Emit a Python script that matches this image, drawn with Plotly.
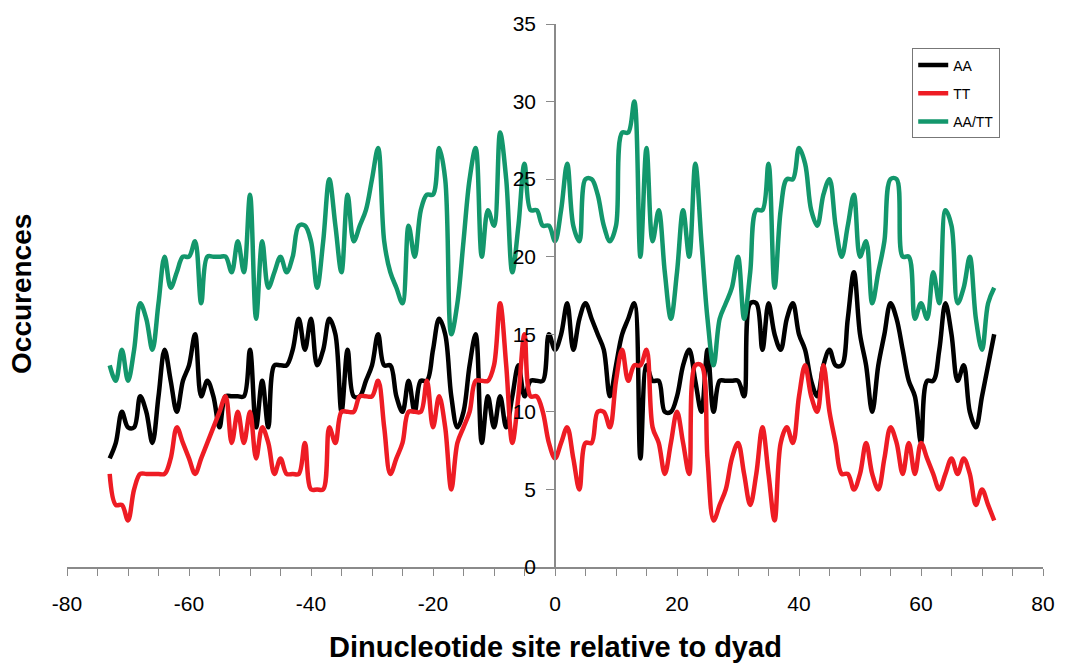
import plotly.graph_objects as go

# Dinucleotide positions relative to the nucleosome dyad
positions = list(range(-73, 73))

# Occurrence counts per position
aa = [
    7, 8, 10, 9, 9, 11, 10, 8, 11, 14,
    12, 10, 12, 13, 15, 11, 12, 11, 9, 11,
    11, 11, 11, 14, 9, 12, 9, 13, 13, 13,
    14, 16, 14, 16, 13, 14, 16, 15, 10, 14,
    11, 11, 12, 13, 15, 13, 13, 11, 10, 12,
    10, 12, 12, 14, 16, 15, 11, 9, 10, 13,
    15, 8, 11, 9, 11, 9, 11, 13, 11, 12,
    12, 12, 15, 14, 15, 17, 14, 16, 17, 16,
    15, 14, 11, 13, 15, 16, 17, 7, 13, 12,
    12, 10, 10, 11, 13, 14, 12, 10, 14, 10,
    12, 12, 12, 12, 11, 17, 17, 14, 17, 15,
    14, 16, 17, 15, 14, 12, 11, 13, 14, 13,
    13, 16, 19, 15, 13, 10, 13, 15, 17, 16,
    14, 12, 11, 8, 12, 12, 14, 17, 15, 12,
    13, 10, 9, 11, 13, 15,
]

tt = [
    6, 4, 4, 3, 5, 6, 6, 6, 6, 6,
    7, 9, 8, 7, 6, 7, 8, 9, 10, 11,
    8, 10, 8, 10, 7, 9, 8, 6, 7, 6,
    6, 6, 8, 5, 5, 5, 9, 8, 10, 10,
    10, 11, 11, 11, 12, 9, 6, 7, 8, 10,
    10, 10, 12, 9, 11, 9, 5, 8, 9, 10,
    12, 12, 12, 13, 17, 13, 8, 11, 15, 11,
    11, 10, 8, 7, 8, 9, 7, 5, 8, 8,
    10, 10, 9, 12, 14, 12, 13, 13, 14, 9,
    8, 6, 8, 10, 8, 6, 13, 13, 7, 3,
    4, 5, 7, 8, 6, 4, 6, 9, 6, 3,
    8, 9, 8, 11, 13, 11, 10, 13, 10, 8,
    6, 6, 5, 6, 8, 6, 5, 7, 9, 8,
    6, 8, 6, 8, 7, 6, 5, 6, 7, 6,
    7, 6, 4, 5, 4, 3,
]

aa_tt = [
    13, 12, 14, 12, 14, 17, 16, 14, 17, 20,
    18, 19, 20, 20, 21, 17, 20, 20, 20, 20,
    19, 21, 19, 24, 16, 21, 18, 19, 20, 19,
    20, 22, 22, 21, 18, 21, 25, 22, 19, 24,
    21, 22, 23, 25, 27, 21, 19, 18, 17, 22,
    20, 23, 24, 24, 27, 25, 15, 17, 21, 25,
    27, 20, 23, 22, 28, 25, 19, 22, 26, 23,
    23, 22, 22, 21, 23, 26, 22, 21, 25, 25,
    24, 22, 21, 22, 28, 28, 30, 20, 27, 21,
    23, 19, 16, 19, 23, 20, 26, 21, 16, 13,
    16, 17, 18, 20, 16, 19, 23, 23, 26, 18,
    23, 25, 25, 27, 26, 23, 22, 24, 25, 22,
    20, 22, 24, 20, 21, 17, 19, 21, 25, 25,
    20, 20, 16, 17, 16, 19, 17, 23, 22, 17,
    18, 20, 16, 14, 17, 18,
]

series_names = ["AA", "TT", "AA/TT"]
series_colors = ["#000000", "#ee1c24", "#13976c"]

x_tick_vals = [-80, -60, -40, -20, 0, 20, 40, 60, 80]
x_tick_text = ["-80", "-60", "-40", "-20", "0", "20", "40", "60", "80"]
y_tick_vals = [0, 5, 10, 15, 20, 25, 30, 35]
y_tick_text = ["0", "5", "10", "15", "20", "25", "30", "35"]

x_title = "Dinucleotide site relative to dyad"
y_title = "Occurences"

fig = go.Figure()
for name, values, color in zip(series_names, [aa, tt, aa_tt], series_colors):
    fig.add_trace(go.Scatter(
        x=positions, y=values, mode="lines", name=name, legendgroup=name,
        line=dict(color=color, width=4.5, shape="spline", smoothing=1),
    ))

axis_grey = "#8a8a8a"
fig.update_layout(
    width=1068, height=665,
    margin=dict(l=67, r=25, t=20, b=97.5),
    paper_bgcolor="white", plot_bgcolor="white",
    font=dict(family="Liberation Sans, Arial, sans-serif", color="black"),
    showlegend=True,
    xaxis=dict(
        range=[-80, 80], tickmode="array", tickvals=x_tick_vals, ticktext=x_tick_text,
        ticks="outside", ticklen=7, tickwidth=1, tickcolor=axis_grey,
        showline=True, linecolor=axis_grey, linewidth=1.5,
        showgrid=False, zeroline=False, tickfont=dict(size=21),
        ticklabelstandoff=10,
        minor=dict(dtick=5, tick0=0, ticks="outside", ticklen=7, tickwidth=1,
                   tickcolor=axis_grey, showgrid=False),
    ),
    yaxis=dict(
        range=[0, 35], tickmode="array", tickvals=y_tick_vals, ticktext=y_tick_text,
        anchor="free", position=0.5,
        ticks="outside", ticklen=8, tickwidth=1, tickcolor=axis_grey,
        showline=True, linecolor=axis_grey, linewidth=1.5,
        showgrid=False, zeroline=False, tickfont=dict(size=21),
        ticklabelstandoff=6,
    ),
    legend=dict(
        x=0.866, y=0.955, xanchor="left", yanchor="top",
        bgcolor="white", bordercolor="#777777", borderwidth=1,
        font=dict(size=14), tracegroupgap=7, traceorder="grouped",
    ),
    annotations=[
        dict(text="<b>" + x_title + "</b>", xref="paper", yref="paper",
             x=0.5, y=-0.147, xanchor="center", yanchor="middle",
             showarrow=False, font=dict(size=29)),
        dict(text="<b>" + y_title + "</b>", xref="paper", yref="paper",
             x=-0.046, y=0.503, xanchor="center", yanchor="middle",
             textangle=-90, showarrow=False, font=dict(size=28)),
    ],
)

fig.write_html("out.html")
